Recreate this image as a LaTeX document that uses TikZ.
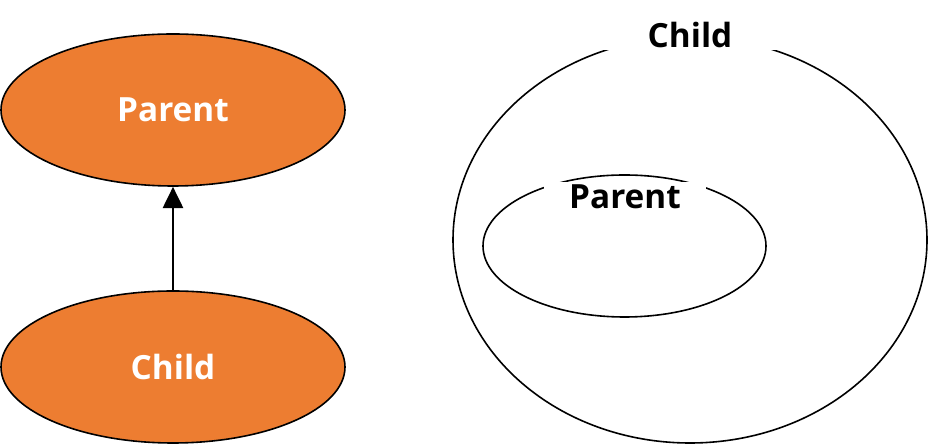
\documentclass[tikz,border=0pt]{standalone}
\usepackage{fontspec}
\setmainfont{Open Sans}
\usepackage{xcolor}
\usetikzlibrary{shapes,arrows.meta,positioning}
\definecolor{nodeorange}{HTML}{ED7D31}

\begin{document}
\begin{tikzpicture}[x=0.75pt, y=0.75pt]
    \tikzstyle{class node} = [ellipse, draw, line width=1.2pt, fill=nodeorange, inner sep=0pt, minimum width=258pt, minimum height=114pt, text=white, font=\fontsize{25}{30}\selectfont\bfseries]
    \tikzstyle{set node} = [ellipse, draw, line width=1.2pt, inner sep=0pt]
    \tikzstyle{set label} = [fill=white, inner xsep=0pt, inner ysep=2pt, font=\fontsize{25}{30}\selectfont\bfseries]
    \useasboundingbox (0,0) rectangle (928,445);
    % left side: arrow between classes
    \node[class node] (parent) at (173,335) {Parent};
    \node[class node] (child) at (173,78) {Child};
    \draw[-{Triangle[length=16pt,width=15pt]}, line width=2.2pt] (child) -- (parent);
    % right side: nested sets
    \node[set node, minimum width=355.5pt, minimum height=304.5pt] (childset) at (690,205) {};
    \node[set node, minimum width=212.25pt, minimum height=106.5pt] (parentset) at (624.5,199) {};
    \node[set label, minimum width=130pt] (childlabel) at (690,410) {Child};
    \node[set label, minimum width=121pt] (parentlabel) at (625,248) {Parent};
\end{tikzpicture}
\end{document}
